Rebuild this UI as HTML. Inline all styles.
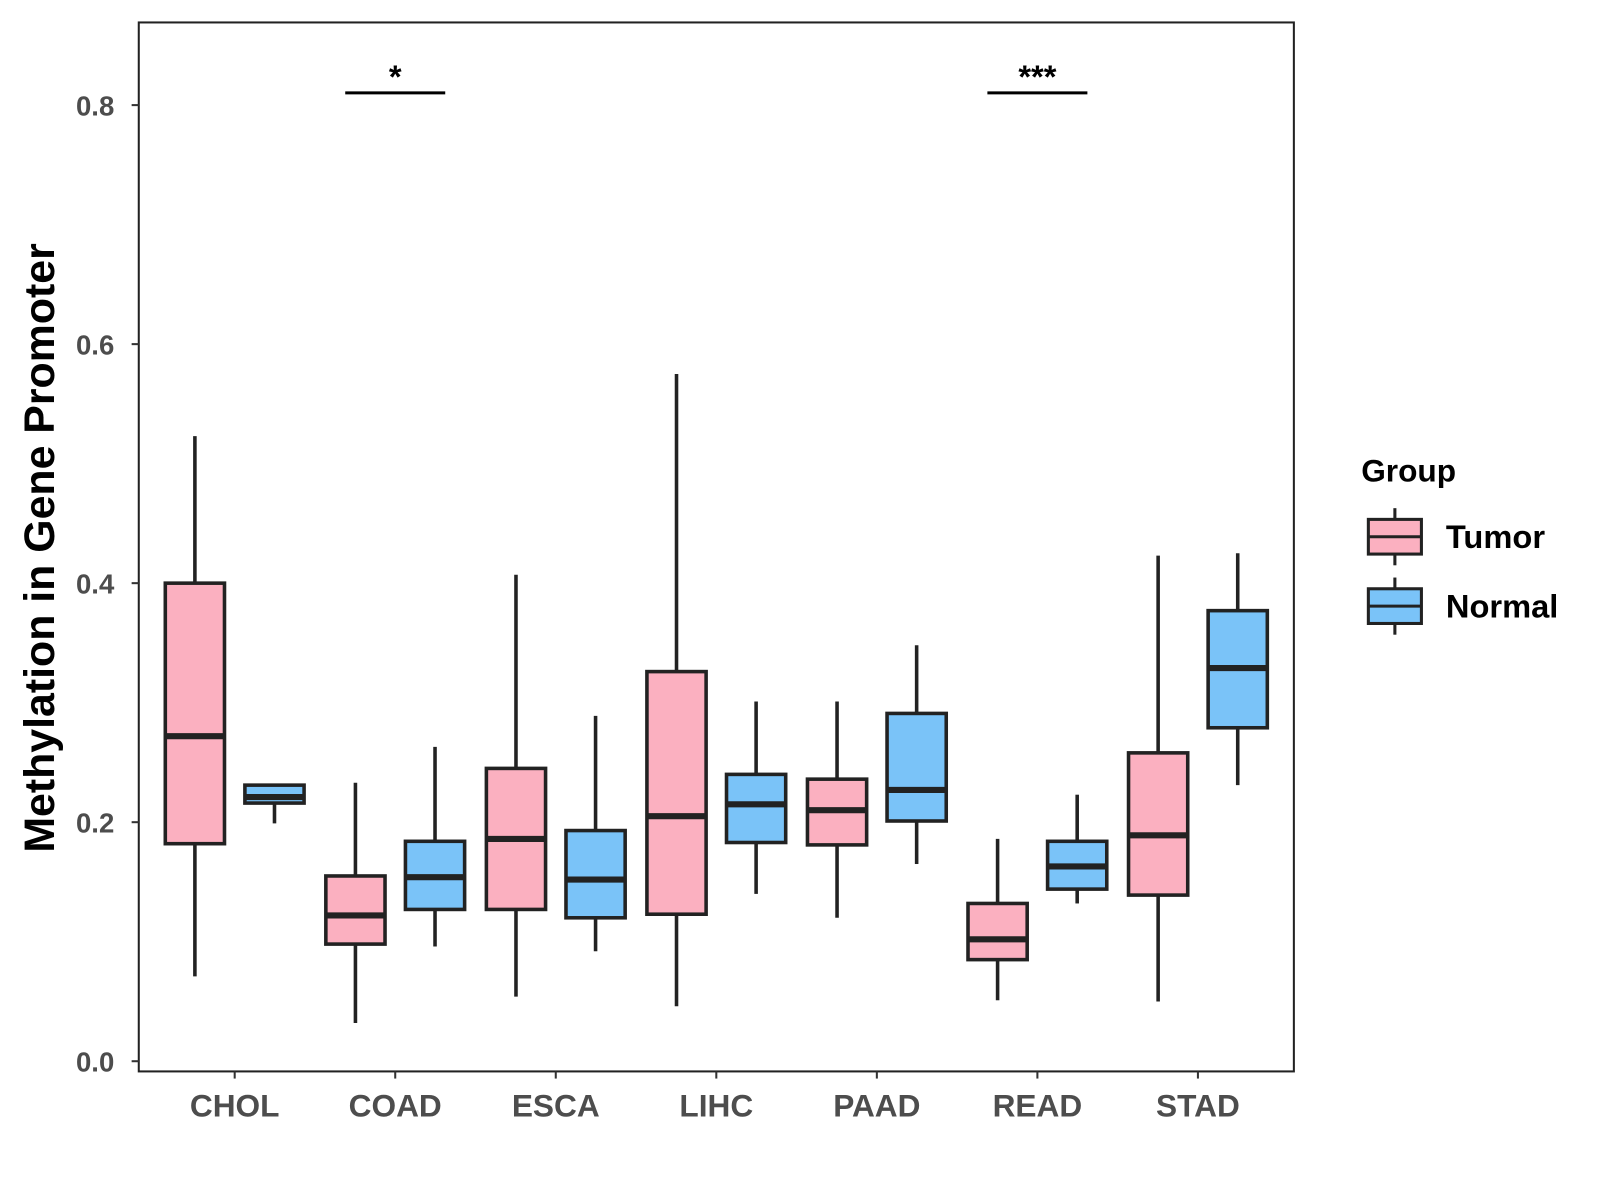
<!DOCTYPE html>
<html><head><meta charset="utf-8"><style>
html,body{margin:0;padding:0;background:#fff;}
svg{display:block;font-family:"Liberation Sans",Arial,sans-serif;}
</style></head><body>
<svg id="chart" width="1600" height="1200" viewBox="0 0 1600 1200">
<g transform="scale(1.0204)">
<rect x="136" y="22" width="1132" height="1028" fill="#fff" stroke="#222" stroke-width="2"/>
<g id="marks"></g>
<g id="axes"></g>
<text x="0" y="0" transform="translate(53,537) rotate(-90)" text-anchor="middle" font-size="42" font-weight="bold" fill="#000">Methylation in Gene Promoter</text>
<g>
<text x="1334" y="472" font-size="31" font-weight="bold" fill="#000">Group</text>
<g>
<line x1="1367" y1="498" x2="1367" y2="554" stroke="#222" stroke-width="3"/>
<rect x="1341" y="509" width="52" height="34" fill="#fbb0c0" stroke="#222" stroke-width="3"/>
<line x1="1341" y1="526" x2="1393" y2="526" stroke="#222" stroke-width="3"/>
<text x="1417" y="537" font-size="32" font-weight="bold" fill="#000">Tumor</text>
</g>
<g>
<line x1="1367" y1="566" x2="1367" y2="622" stroke="#222" stroke-width="3"/>
<rect x="1341" y="577" width="52" height="34" fill="#7ac3f8" stroke="#222" stroke-width="3"/>
<line x1="1341" y1="594" x2="1393" y2="594" stroke="#222" stroke-width="3"/>
<text x="1417" y="605" font-size="32" font-weight="bold" fill="#000">Normal</text>
</g>
</g>
</g>
</svg>
<script>
const categories = ["CHOL","COAD","ESCA","LIHC","PAAD","READ","STAD"];
// [low whisker, q1, median, q3, high whisker]
const tumorStats = [
 [0.071,0.182,0.272,0.400,0.523],
 [0.032,0.098,0.122,0.155,0.233],
 [0.054,0.127,0.186,0.245,0.407],
 [0.046,0.123,0.205,0.326,0.575],
 [0.120,0.181,0.210,0.236,0.301],
 [0.051,0.085,0.102,0.132,0.186],
 [0.050,0.139,0.189,0.258,0.423]
];
const normalStats = [
 [0.199,0.216,0.221,0.231,0.231],
 [0.096,0.127,0.154,0.184,0.263],
 [0.092,0.120,0.152,0.193,0.289],
 [0.140,0.183,0.215,0.240,0.301],
 [0.165,0.201,0.227,0.291,0.348],
 [0.132,0.144,0.163,0.184,0.223],
 [0.231,0.279,0.329,0.377,0.425]
];
const yTicks = [0.0,0.2,0.4,0.6,0.8];
const yTickLabels = ["0.0","0.2","0.4","0.6","0.8"];
const sigCategories = ["COAD","READ"];
const sigLabels = ["*","***"];

const NS="http://www.w3.org/2000/svg";
const y = v => 1040 - v*1171.25;
const x = i => 230 + i*157.33;
const marks=document.getElementById('marks'), axes=document.getElementById('axes');
function mk(tag,attrs,parent){const e=document.createElementNS(NS,tag);for(const k in attrs)e.setAttribute(k,attrs[k]);parent.appendChild(e);return e;}

function drawBox(cx,s,fill,name){
  const g=mk('g',{},marks);
  
  
  const w=58;
  mk('line',{x1:cx,y1:y(s[4]),x2:cx,y2:y(s[3]),stroke:'#222','stroke-width':3.5},g);
  mk('line',{x1:cx,y1:y(s[1]),x2:cx,y2:y(s[0]),stroke:'#222','stroke-width':3.5},g);
  mk('rect',{x:cx-w/2,y:y(s[3]),width:w,height:y(s[1])-y(s[3]),fill:fill,stroke:'#222','stroke-width':3.5},g);
  mk('line',{x1:cx-w/2,y1:y(s[2]),x2:cx+w/2,y2:y(s[2]),stroke:'#222','stroke-width':6},g);
}
categories.forEach((c,i)=>{
  drawBox(x(i)-39,tumorStats[i],'#fbb0c0','box-tumor-'+c.toLowerCase());
  drawBox(x(i)+39,normalStats[i],'#7ac3f8','box-normal-'+c.toLowerCase());
  mk('line',{x1:x(i),y1:1050,x2:x(i),y2:1057,stroke:'#333','stroke-width':2},axes);
  const t=mk('text',{x:x(i),y:1094,'text-anchor':'middle','font-size':31,'font-weight':'bold',fill:'#4d4d4d'},axes);
  t.textContent=c;
  
  
});
yTicks.forEach((v,i)=>{
  mk('line',{x1:129,y1:y(v),x2:136,y2:y(v),stroke:'#333','stroke-width':2},axes);
  const t=mk('text',{x:112,y:y(v)+10,'text-anchor':'end','font-size':27,'font-weight':'bold',fill:'#4d4d4d'},axes);
  t.textContent=yTickLabels[i];
  
  
});
sigCategories.forEach((c,k)=>{
  const i=categories.indexOf(c);
  const g=mk('g',{},marks);
  
  
  mk('line',{x1:x(i)-49,y1:91,x2:x(i)+49,y2:91,stroke:'#000','stroke-width':3},g);
  const t=mk('text',{x:x(i),y:86,'text-anchor':'middle','font-size':32,'font-weight':'bold',fill:'#000'},g);
  t.textContent=sigLabels[k];
});
</script>
</body></html>
